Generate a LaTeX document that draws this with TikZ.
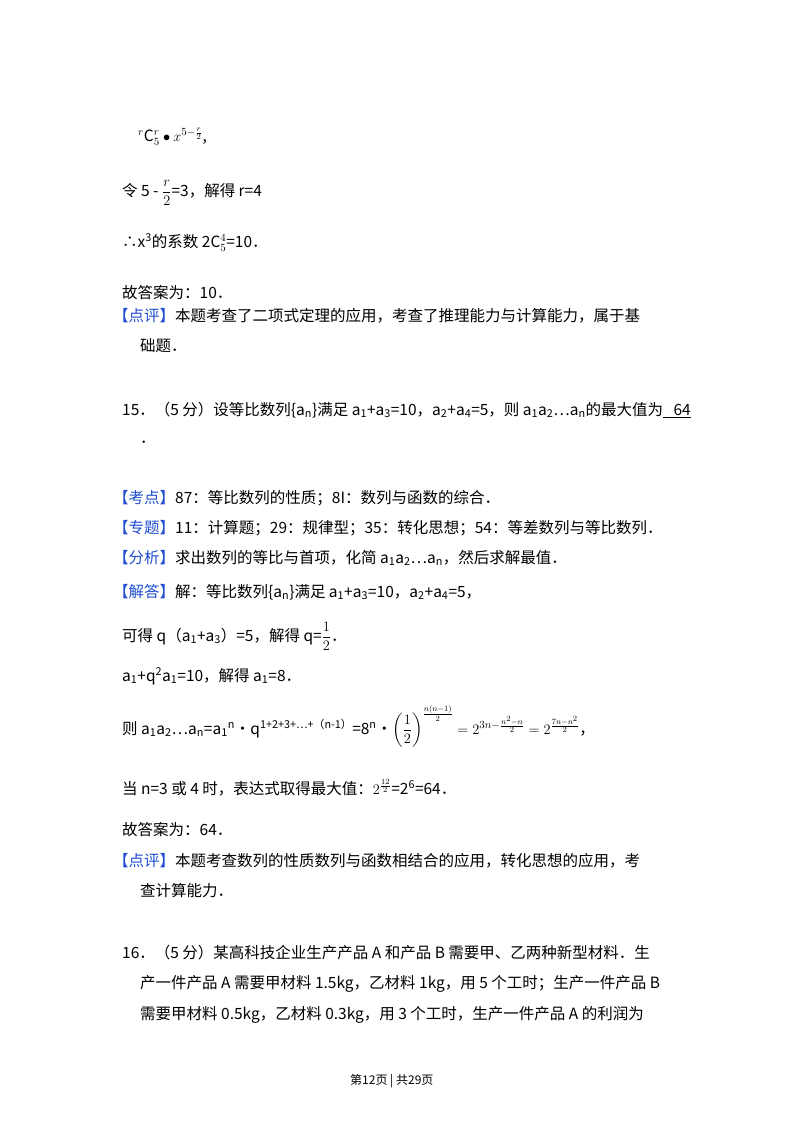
\documentclass[tikz,border=0pt]{standalone}
\usepackage{amsmath}
\usepackage{fontspec}
\setmainfont{Noto Sans CJK SC}
\definecolor{tagblue}{HTML}{1F4FD0}
\newcommand{\dn}[1]{\textsubscript{#1}}
\newcommand{\up}[1]{\textsuperscript{#1}}
\newcommand{\tg}[1]{{\color{tagblue}【#1】}}
\begin{document}
\begin{tikzpicture}[x=1pt,y=-1pt,
  t/.style={anchor=base west,inner sep=0pt,font=\fontsize{15.5}{18}\selectfont}]
\useasboundingbox[fill=white] (0,0) rectangle (800,1132);
\node[t] (l1) at (138,141) {${}^{r}\mathrm{C}_5^{r}\bullet x^{5-\frac{r}{2}}$,};
\node[t] (l2) at (122,196) {令 5 - $\dfrac{r}{2}$=3，解得 r=4};
\node[t] (l3) at (122,247) {∴x\up{3}的系数 2$\mathrm{C}_5^4$=10．};
\node[t] (l4) at (122,298) {故答案为：10．};
\node[t] (l5) at (113,321) {\tg{点评}本题考查了二项式定理的应用，考查了推理能力与计算能力，属于基};
\node[t] (l6) at (140,351) {础题．};
\node[t] (l7) at (122,415) {15．（5 分）设等比数列\{a\dn{n}\}满足 a\dn{1}+a\dn{3}=10，a\dn{2}+a\dn{4}=5，则 a\dn{1}a\dn{2}…a\dn{n}的最大值为\underline{\ \ \ 64}};
\node[t] (l8) at (140,443) {．};
\node[t] (l9) at (113,503) {\tg{考点}87：等比数列的性质；8I：数列与函数的综合．};
\node[t] (l10) at (113,533) {\tg{专题}11：计算题；29：规律型；35：转化思想；54：等差数列与等比数列．};
\node[t] (l11) at (113,563) {\tg{分析}求出数列的等比与首项，化简 a\dn{1}a\dn{2}…a\dn{n}，然后求解最值．};
\node[t] (l12) at (113,597) {\tg{解答}解：等比数列\{a\dn{n}\}满足 a\dn{1}+a\dn{3}=10，a\dn{2}+a\dn{4}=5，};
\node[t] (l13) at (122,641) {可得 q（a\dn{1}+a\dn{3}）=5，解得 q=$\dfrac{1}{2}$．};
\node[t] (l14) at (122,681) {a\dn{1}+q\up{2}a\dn{1}=10，解得 a\dn{1}=8．};
\node[t] (l15) at (122,734) {则 a\dn{1}a\dn{2}…a\dn{n}=a\dn{1}\up{n}•q\up{1+2+3+…+（n-1）}=8\up{n}•$\left(\dfrac{1}{2}\right)^{\frac{n(n-1)}{2}}=2^{3n-\frac{n^2-n}{2}}=2^{\frac{7n-n^2}{2}}$，};
\node[t] (l16) at (122,794) {当 n=3 或 4 时，表达式取得最大值：$2^{\frac{12}{2}}$=2\up{6}=64．};
\node[t] (l17) at (122,835) {故答案为：64．};
\node[t] (l18) at (113,866) {\tg{点评}本题考查数列的性质数列与函数相结合的应用，转化思想的应用，考};
\node[t] (l19) at (140,896) {查计算能力．};
\node[t] (l20) at (122,958) {16．（5 分）某高科技企业生产产品 A 和产品 B 需要甲、乙两种新型材料．生};
\node[t] (l21) at (140,988) {产一件产品 A 需要甲材料 1.5kg，乙材料 1kg，用 5 个工时；生产一件产品 B};
\node[t] (l22) at (140,1019) {需要甲材料 0.5kg，乙材料 0.3kg，用 3 个工时，生产一件产品 A 的利润为};
\node[t,font=\fontsize{12}{14}\selectfont] (ft) at (350,1084) {第12页 | 共29页};
\end{tikzpicture}
\end{document}
